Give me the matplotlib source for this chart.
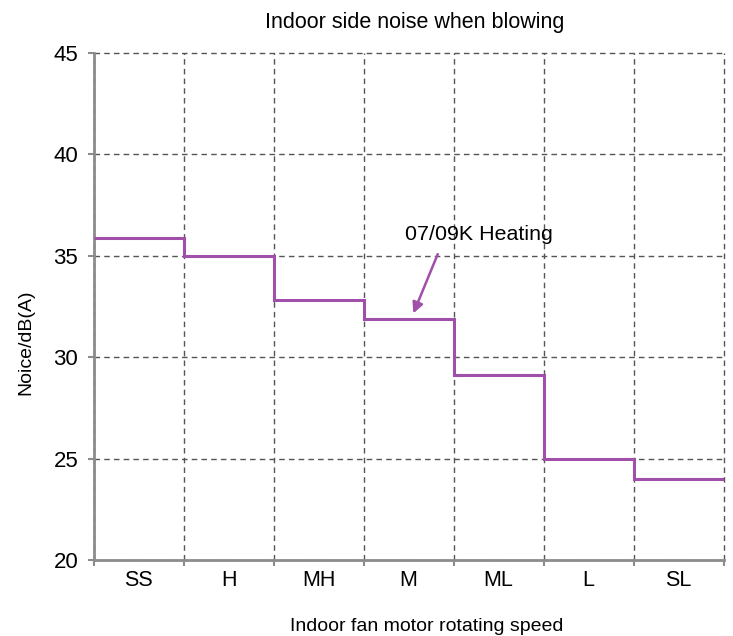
import matplotlib
matplotlib.use('Agg')
import matplotlib.pyplot as plt
import numpy as np

plt.rcParams['font.family'] = ['Liberation Sans', 'DejaVu Sans']

speeds = ['SS', 'H', 'MH', 'M', 'ML', 'L', 'SL']
noise = [35.9, 35.0, 32.8, 31.9, 29.1, 25.0, 24.0]
series_label = '07/09K Heating'

line_color = '#A04FAA'
grid_color = '#555555'
spine_color = '#8C8C8C'

fig = plt.figure(figsize=(7.33, 6.36), dpi=100)
ax = fig.add_axes([0.1276, 0.1195, 0.8596, 0.7972])

edges = np.arange(len(speeds) + 1)
ax.stairs(noise, edges, baseline=None, color=line_color, linewidth=2.2, zorder=3)

ax.set_xlim(0, len(speeds))
ax.set_ylim(20, 45)
ax.set_yticks(np.arange(20, 46, 5))
ax.set_xticks(edges)
ax.set_xticklabels([])
ax.set_xticks(edges[:-1] + 0.5, minor=True)
ax.set_xticklabels(speeds, minor=True)

ax.grid(True, which='major', linestyle=(0, (4, 3)), color=grid_color, linewidth=1)
ax.set_axisbelow(True)
for gl in ax.get_xgridlines() + ax.get_ygridlines():
    gl.set_clip_on(False)

ax.tick_params(axis='both', which='major', length=4, width=1.5, color=spine_color,
               labelsize=16, pad=4)
ax.tick_params(axis='y', which='major', pad=7)
ax.tick_params(axis='x', which='minor', length=0, labelsize=15.5, pad=7)

for s in ['top', 'right']:
    ax.spines[s].set_visible(False)
for s in ['left', 'bottom']:
    ax.spines[s].set_color(spine_color)
    ax.spines[s].set_linewidth(2)

ax.set_title('Indoor side noise when blowing', fontsize=15.5, pad=18, x=0.51)
ax.set_xlabel('Indoor fan motor rotating speed', fontsize=14, labelpad=20)
ax.set_ylabel('Noice/dB(A)', fontsize=14, labelpad=14)
# labels sit a bit off-centre in the original
ax.xaxis.label.set_x(0.528)
ax.yaxis.label.set_y(0.43)

# label with arrow pointing at the M step
ax.text(4.28, 36.03, series_label, fontsize=15.4, ha='center', va='center')
ax.annotate('', xy=(3.553, 32.16), xytext=(3.824, 35.08),
            arrowprops=dict(arrowstyle='-|>', color=line_color, lw=1.8,
                            mutation_scale=16, shrinkA=0, shrinkB=0))

plt.savefig('out.png', dpi=100)
